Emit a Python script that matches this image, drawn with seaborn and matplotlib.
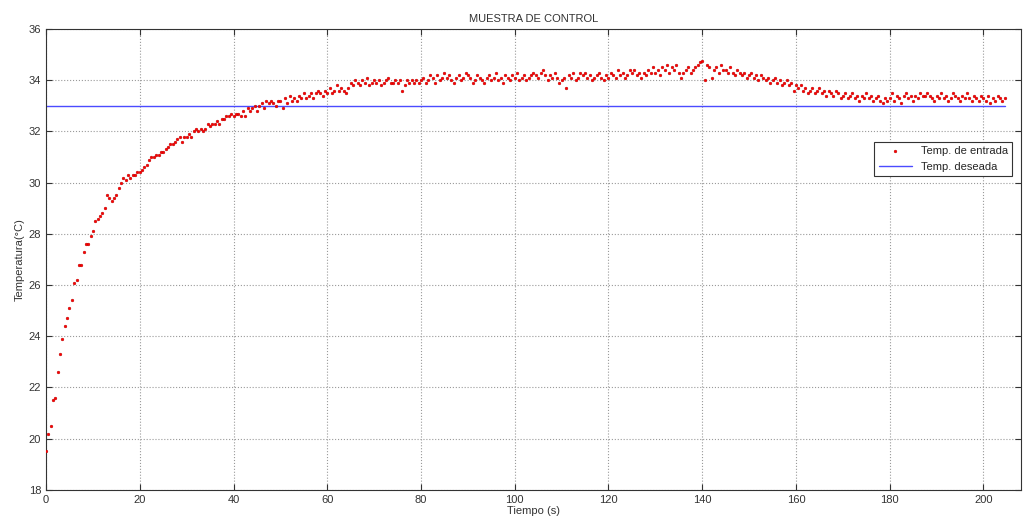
import numpy as np
import pandas as pd
import matplotlib
matplotlib.use('Agg')
import matplotlib.pyplot as plt
import seaborn as sns

# temperatura leida cada 0.5 s
temp_entrada = [
    19.5, 20.2, 20.5, 21.5, 21.6, 22.6, 23.3, 23.9, 24.4, 24.7,
    25.1, 25.4, 26.1, 26.2, 26.8, 26.8, 27.3, 27.6, 27.6, 27.9,
    28.1, 28.5, 28.6, 28.7, 28.8, 29.0, 29.5, 29.4, 29.3, 29.4,
    29.5, 29.8, 30.0, 30.2, 30.1, 30.3, 30.2, 30.3, 30.3, 30.4,
    30.4, 30.5, 30.6, 30.7, 30.9, 31.0, 31.0, 31.1, 31.1, 31.2,
    31.2, 31.3, 31.4, 31.5, 31.5, 31.6, 31.7, 31.8, 31.6, 31.8,
    31.8, 31.9, 31.8, 32.0, 32.1, 32.0, 32.1, 32.0, 32.1, 32.3,
    32.2, 32.3, 32.3, 32.4, 32.3, 32.5, 32.5, 32.6, 32.6, 32.7,
    32.6, 32.7, 32.7, 32.6, 32.8, 32.6, 32.9, 32.8, 32.9, 33.0,
    32.8, 33.0, 33.1, 32.9, 33.2, 33.1, 33.2, 33.1, 33.0, 33.2,
    33.2, 32.9, 33.3, 33.1, 33.4, 33.2, 33.3, 33.2, 33.4, 33.3,
    33.5, 33.3, 33.4, 33.5, 33.3, 33.5, 33.6, 33.5, 33.4, 33.6,
    33.5, 33.7, 33.5, 33.6, 33.8, 33.6, 33.7, 33.6, 33.5, 33.7,
    33.9, 33.8, 34.0, 33.9, 33.8, 34.0, 33.9, 34.1, 33.8, 33.9,
    34.0, 33.9, 34.0, 33.8, 33.9, 34.0, 34.1, 33.9, 33.9, 34.0,
    33.9, 34.0, 33.6, 33.8, 34.0, 33.9, 34.0, 33.9, 34.0, 33.9,
    34.0, 34.1, 33.9, 34.0, 34.2, 34.1, 33.9, 34.2, 34.0, 34.1,
    34.3, 34.1, 34.2, 34.0, 33.9, 34.1, 34.2, 34.0, 34.1, 34.3,
    34.2, 34.1, 33.9, 34.0, 34.2, 34.1, 34.0, 33.9, 34.1, 34.2,
    34.0, 34.1, 34.3, 34.0, 34.1, 33.9, 34.2, 34.1, 34.0, 34.2,
    34.1, 34.3, 34.0, 34.1, 34.2, 34.0, 34.1, 34.2, 34.3, 34.2,
    34.1, 34.3, 34.4, 34.2, 34.0, 34.2, 34.1, 34.3, 34.1, 33.9,
    34.0, 34.1, 33.7, 34.2, 34.1, 34.3, 34.0, 34.1, 34.3, 34.2,
    34.3, 34.1, 34.2, 34.0, 34.1, 34.2, 34.3, 34.1, 34.0, 34.2,
    34.1, 34.3, 34.2, 34.1, 34.4, 34.2, 34.3, 34.1, 34.2, 34.4,
    34.3, 34.4, 34.2, 34.3, 34.1, 34.3, 34.2, 34.4, 34.3, 34.5,
    34.3, 34.4, 34.2, 34.5, 34.4, 34.6, 34.3, 34.5, 34.4, 34.6,
    34.3, 34.1, 34.3, 34.4, 34.5, 34.3, 34.4, 34.5, 34.6, 34.7,
    34.75, 34.0, 34.6, 34.5, 34.1, 34.4, 34.5, 34.3, 34.6, 34.4,
    34.4, 34.3, 34.5, 34.3, 34.2, 34.4, 34.3, 34.2, 34.3, 34.1,
    34.2, 34.3, 34.1, 34.2, 34.0, 34.2, 34.1, 34.0, 34.1, 33.9,
    34.0, 34.1, 33.9, 34.0, 33.8, 33.9, 34.0, 33.8, 33.9, 33.6,
    33.8, 33.7, 33.8, 33.6, 33.7, 33.5, 33.6, 33.7, 33.5, 33.6,
    33.7, 33.5, 33.6, 33.4, 33.6, 33.5, 33.4, 33.6, 33.5, 33.3,
    33.4, 33.5, 33.3, 33.4, 33.5, 33.3, 33.4, 33.2, 33.4, 33.3,
    33.5, 33.3, 33.4, 33.2, 33.3, 33.4, 33.2, 33.1, 33.3, 33.2,
    33.3, 33.5, 33.2, 33.4, 33.3, 33.1, 33.4, 33.5, 33.3, 33.4,
    33.2, 33.4, 33.3, 33.5, 33.4, 33.4, 33.5, 33.4, 33.3, 33.2,
    33.4, 33.3, 33.5, 33.3, 33.4, 33.2, 33.3, 33.5, 33.4, 33.3,
    33.2, 33.4, 33.3, 33.5, 33.3, 33.2, 33.4, 33.3, 33.2, 33.4,
    33.3, 33.2, 33.4, 33.1, 33.3, 33.2, 33.4, 33.3, 33.2, 33.3,
]
tiempo = np.arange(len(temp_entrada)) * 0.5
temp_deseada = 33.0

df = pd.DataFrame({'tiempo': tiempo, 'temp': temp_entrada})
df['deseada'] = temp_deseada

sns.set_style('ticks')
plt.rcParams['font.family'] = ['Liberation Sans', 'DejaVu Sans']

fig = plt.figure(figsize=(10.23, 5.29), dpi=100)
ax = fig.add_axes([0.045, 0.074, 0.953, 0.871])

sns.scatterplot(data=df, x='tiempo', y='temp', ax=ax, color='red', marker='.',
                s=16, edgecolor='#b00000', linewidth=0.3, label='Temp. de entrada', zorder=3)
sns.lineplot(data=df, x='tiempo', y='deseada', ax=ax, color='#4b4bff', linewidth=1,
             label='Temp. deseada', zorder=2)

ax.set_xlim(0, 208)
ax.set_ylim(18, 36)
ax.set_xticks(range(0, 201, 20))
ax.set_yticks(range(18, 37, 2))
ax.grid(True, linestyle=':', color='#9a9a9a', linewidth=0.8)
for s in ax.spines.values():
    s.set_visible(True)
    s.set_color('#333333')
    s.set_linewidth(0.8)
ax.tick_params(direction='in', top=True, right=True, labelsize=8, length=4,
               colors='#333333', labelcolor='#333333')

ax.set_title('MUESTRA DE CONTROL', fontsize=8, color='#333333', pad=5)
ax.set_xlabel('Tiempo (s)', fontsize=8, color='#333333', labelpad=1)
ax.set_ylabel('Temperatura(\u00b0C)', fontsize=8, color='#333333', labelpad=3)

leg = ax.legend(loc='upper right', bbox_to_anchor=(0.997, 0.768), fontsize=8,
                frameon=True, fancybox=False, framealpha=1, borderpad=0.4,
                handlelength=3, markerscale=1)
leg.get_frame().set_edgecolor('#333333')
leg.get_frame().set_linewidth(0.8)

fig.savefig('out.png', dpi=100)
